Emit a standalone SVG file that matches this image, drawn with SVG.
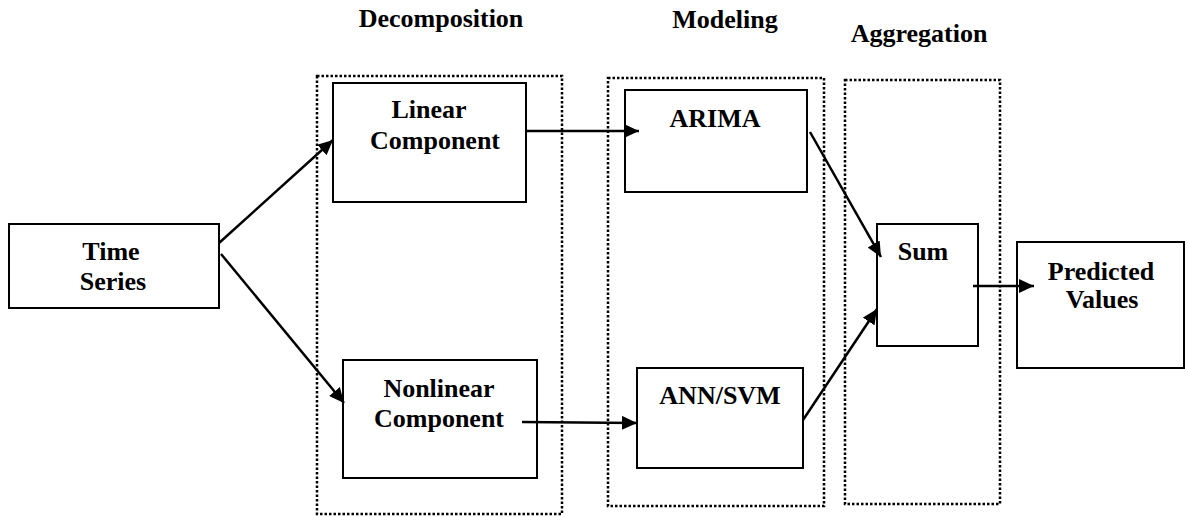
<svg xmlns="http://www.w3.org/2000/svg" width="1188" height="517" viewBox="0 0 1188 517">
<style>
.t{font-family:"Liberation Serif","Times New Roman",serif;font-weight:bold;font-size:26px;fill:#000;text-anchor:middle}
.n{fill:#fff;stroke:#000;stroke-width:2}
.g{fill:none;stroke:#000;stroke-width:2.5;stroke-dasharray:2.5 2}
.c{fill:none;stroke:#000;stroke-width:2.5}
</style>
<defs>
<marker id="ah" viewBox="0 0 15 14" refX="15" refY="7" markerWidth="15" markerHeight="14" markerUnits="userSpaceOnUse" orient="auto">
<path d="M0,0 L15,7 L0,14 z" fill="#000"/>
</marker>
</defs>
<rect width="1188" height="517" fill="#fff"/>
<g id="stages">
<rect class="g" x="317" y="76" width="245" height="438"/>
<rect class="g" x="608" y="78" width="216" height="428"/>
<rect class="g" x="845" y="80" width="155" height="424"/>
<text class="t" x="441" y="27">Decomposition</text>
<text class="t" x="725" y="28">Modeling</text>
<text class="t" x="919" y="42">Aggregation</text>
</g>
<g id="time-series">
<rect class="n" x="9" y="224" width="210" height="84"/>
<text class="t" x="111" y="260">Time</text>
<text class="t" x="113" y="290">Series</text>
</g>
<g id="linear">
<rect class="n" x="333" y="83" width="193" height="119"/>
<text class="t" x="429" y="118">Linear</text>
<text class="t" x="435" y="149">Component</text>
</g>
<g id="nonlinear">
<rect class="n" x="343" y="360" width="194" height="118"/>
<text class="t" x="439" y="397">Nonlinear</text>
<text class="t" x="439" y="427">Component</text>
</g>
<g id="arima">
<rect class="n" x="625" y="90" width="182" height="102"/>
<text class="t" x="715" y="127">ARIMA</text>
</g>
<g id="ann-svm">
<rect class="n" x="637" y="368" width="166" height="100"/>
<text class="t" x="720" y="404">ANN/SVM</text>
</g>
<g id="sum">
<rect class="n" x="877" y="224" width="101" height="122"/>
<text class="t" x="923" y="260">Sum</text>
</g>
<g id="predicted">
<rect class="n" x="1017" y="242" width="167" height="126"/>
<text class="t" x="1101" y="280">Predicted</text>
<text class="t" x="1102" y="308">Values</text>
</g>
<g id="connectors">
<line class="c" x1="219" y1="243" x2="333" y2="140" marker-end="url(#ah)"/>
<line class="c" x1="221" y1="254" x2="344" y2="403" marker-end="url(#ah)"/>
<line class="c" x1="526" y1="131" x2="639" y2="131" marker-end="url(#ah)"/>
<line class="c" x1="522" y1="422" x2="637" y2="423" marker-end="url(#ah)"/>
<line class="c" x1="810" y1="132" x2="881" y2="257" marker-end="url(#ah)"/>
<line class="c" x1="803" y1="420" x2="877" y2="309" marker-end="url(#ah)"/>
<line class="c" x1="973" y1="286" x2="1034" y2="286" marker-end="url(#ah)"/>
</g>
</svg>
